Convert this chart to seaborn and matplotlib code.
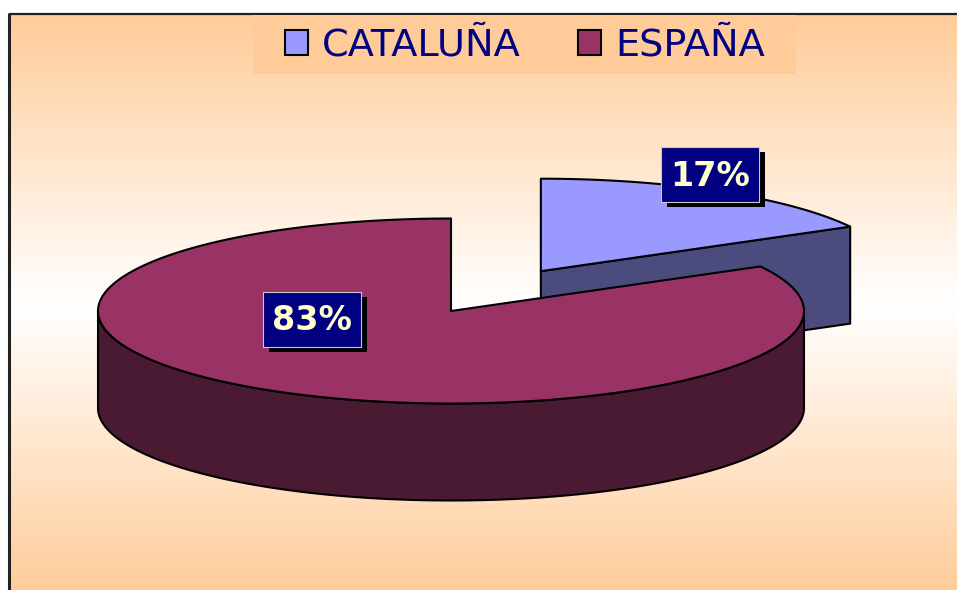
import numpy as np
import matplotlib
matplotlib.use("Agg")
import matplotlib.pyplot as plt
import seaborn as sns
from matplotlib.patches import Polygon, Rectangle, Patch
from matplotlib.colors import LinearSegmentedColormap

# Data
regions = ["CATALUÑA", "ESPAÑA"]
shares = [17, 83]
pct_labels = ["17%", "83%"]
top_colors = ["#9999FF", "#993366"]
side_colors = ["#4B4B7E", "#4A1A33"]

# Layout (pixel space of the 957x590 picture)
CX, CY = 451, 311          # centre of the pie top
RX, RY = 353, 92.5         # ellipse radii of the top face
DEPTH = 97                 # thickness of the pie
explode = [0.5, 0.0]
label_pos = [(710, 174), (312, 319)]

sns.set_theme(style="white")

fig = plt.figure(figsize=(9.57, 5.90), dpi=100)
ax = fig.add_axes([0, 0, 1, 1])
ax.set_xlim(0, 957)
ax.set_ylim(590, 0)
ax.axis("off")

# background gradient peach -> white -> peach
grad_cmap = LinearSegmentedColormap.from_list("bg", ["#FFCC99", "#FFFFFF", "#FFCC99"])
grad = np.linspace(0, 1, 256).reshape(-1, 1)
ax.imshow(grad, cmap=grad_cmap, extent=(9, 965, 595, 13), aspect="auto", zorder=0)
ax.set_xlim(0, 957)
ax.set_ylim(590, 0)
ax.plot([9, 9], [600, 13], color="#222222", lw=2.2, zorder=0.5, solid_capstyle="butt")
ax.plot([9, 970], [13.5, 13.5], color="#222222", lw=1.6, zorder=0.5, solid_capstyle="butt")

# legend background
ax.add_patch(Rectangle((253, 14.5), 543, 59, facecolor="#FFCC99", edgecolor="none", zorder=1))


def arc(t, ox, oy, dz=0.0):
    return np.column_stack([ox + RX * np.cos(t), oy - RY * np.sin(t) + dz])


edge_kw = dict(edgecolor="black", linewidth=1.5, joinstyle="round")
total = sum(shares)
start = 90.0
for i, share in enumerate(shares):
    a_hi = start
    a_lo = start - share / total * 360.0
    start = a_lo
    mid = np.radians((a_hi + a_lo) / 2)
    ox = CX + RX * np.cos(mid) * explode[i]
    oy = CY - RY * np.sin(mid) * explode[i]
    z = 2 + i

    # cut faces
    for a, visible in [(a_hi, np.cos(np.radians(a_hi)) < -1e-9),
                       (a_lo, np.cos(np.radians(a_lo)) > 1e-9)]:
        if not visible:
            continue
        ex, ey = arc(np.radians(a), ox, oy)[0]
        face = [(ox, oy), (ex, ey), (ex, ey + DEPTH), (ox, oy + DEPTH)]
        ax.add_patch(Polygon(face, closed=True, facecolor=side_colors[i], zorder=z + 0.1, **edge_kw))

    # outer rim (front-facing part)
    t = np.radians(np.linspace(a_lo, a_hi, 600))
    front = np.sin(t) < 0
    runs = []
    cur = []
    for k, f in enumerate(front):
        if f:
            cur.append(k)
        elif cur:
            runs.append(cur)
            cur = []
    if cur:
        runs.append(cur)
    for run in runs:
        tr = t[run]
        top_pts = arc(tr, ox, oy)
        bot_pts = arc(tr[::-1], ox, oy, DEPTH)
        ax.add_patch(Polygon(np.vstack([top_pts, bot_pts]), closed=True,
                             facecolor=side_colors[i], zorder=z + 0.2, **edge_kw))

    # top face
    tt = np.radians(np.linspace(a_hi, a_lo, 600))
    pts = np.vstack([[ox, oy], arc(tt, ox, oy)])
    ax.add_patch(Polygon(pts, closed=True, facecolor=top_colors[i], zorder=z + 0.3, **edge_kw))

# percentage labels
for (lx, ly), txt in zip(label_pos, pct_labels):
    w, h = 98, 55
    ax.add_patch(Rectangle((lx - w / 2 + 6, ly - h / 2 + 5), w, h, facecolor="black",
                           edgecolor="none", zorder=10))
    ax.add_patch(Rectangle((lx - w / 2, ly - h / 2), w, h, facecolor="#000080",
                           edgecolor="#C8C8C8", linewidth=0.8, zorder=11))
    ax.text(lx, ly + 2, txt, color="#FFFFCC", fontsize=24, fontweight="bold",
            ha="center", va="center", zorder=12)

# legend
handles = [Patch(facecolor=c, edgecolor="black", linewidth=1.5) for c in top_colors]
ax.legend(handles, regions, ncol=2, loc="center left",
          bbox_to_anchor=(285 / 957, 1 - 46 / 590), frameon=False,
          fontsize=27.5, labelcolor="#000080", handlelength=0.6, handleheight=0.6,
          handletextpad=0.37, columnspacing=1.5, borderpad=0, borderaxespad=0)

fig.savefig("out.png", dpi=100)
